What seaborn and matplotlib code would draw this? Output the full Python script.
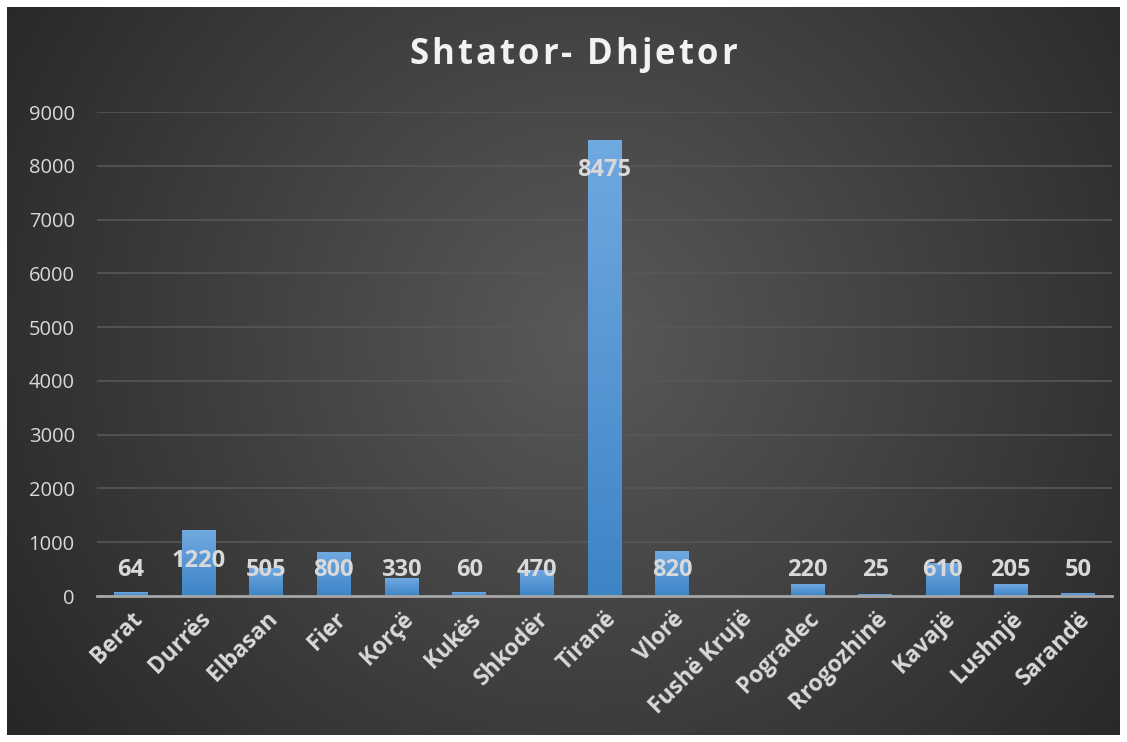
import numpy as np
import matplotlib
matplotlib.use("Agg")
import matplotlib.pyplot as plt
import seaborn as sns

# data
cities = ["Berat", "Durrës", "Elbasan", "Fier", "Korçë", "Kukës", "Shkodër", "Tiranë",
          "Vlorë", "Fushë Krujë", "Pogradec", "Rrogozhinë", "Kavajë", "Lushnjë", "Sarandë"]
values = [64, 1220, 505, 800, 330, 60, 470, 8475, 820, np.nan, 220, 25, 610, 205, 50]
y_ticks = [0, 1000, 2000, 3000, 4000, 5000, 6000, 7000, 8000, 9000]
title = "Shtator- Dhjetor"

sns.set_style("white")
plt.rcParams["font.family"] = ["Open Sans", "DejaVu Sans"]

fig = plt.figure(figsize=(11.27, 7.42), dpi=100, facecolor="white")

# dark radial background inside a thin white frame
bg = fig.add_axes([7 / 1127, 7 / 742, 1 - 14 / 1127, 1 - 14 / 742])
gx, gy = np.meshgrid(np.linspace(0, 1, 400), np.linspace(0, 1, 300))
r = np.sqrt(((gx - 0.52) * 1.5) ** 2 + (gy - 0.45) ** 2)
r = np.clip(r / r.max(), 0, 1)
dark, light = np.array([0.15, 0.15, 0.15]), np.array([0.35, 0.35, 0.35])
img = light[None, None, :] * (1 - r[..., None]) + dark[None, None, :] * r[..., None]
bg.imshow(img, aspect="auto", extent=[0, 1, 0, 1], origin="upper")
bg.set_axis_off()

ax = fig.add_axes([97 / 1127, 146 / 742, 1015 / 1127, 484 / 742])
ax.patch.set_alpha(0)
sns.barplot(x=cities, y=values, color="#5b9bd5", width=0.5, saturation=1, ax=ax,
            zorder=3, linewidth=0, edgecolor="none")

# vertical gradient on each bar
grad = np.linspace(0, 1, 100)[:, None]
top_c, bot_c = np.array([0.44, 0.66, 0.88]), np.array([0.24, 0.52, 0.78])
gimg = top_c[None, None, :] * (1 - grad[..., None]) + bot_c[None, None, :] * grad[..., None]
for p in ax.patches:
    h = p.get_height()
    if not np.isfinite(h) or h <= 0:
        continue
    x0 = p.get_x()
    ax.imshow(gimg, aspect="auto", extent=[x0, x0 + p.get_width(), 0, h],
              origin="upper", zorder=4)
ax.set_ylim(0, 9000)
ax.set_xlim(-0.5, len(cities) - 0.5)

# data labels, Excel-style inside end
for i, v in enumerate(values):
    if not np.isfinite(v):
        continue
    ypos = max(v - 560, 485)
    ax.text(i, ypos, f"{int(v)}", ha="center", va="center", fontsize=17,
            fontweight="bold", color="#d9d9d9", zorder=6)

ax.set_yticks(y_ticks)
ax.yaxis.grid(True, color="#575757", linewidth=1.2, zorder=0)
ax.set_axisbelow(True)
for s in ["top", "right", "left"]:
    ax.spines[s].set_visible(False)
ax.spines["bottom"].set_color("#a6a6a6")
ax.spines["bottom"].set_linewidth(2)
ax.spines["bottom"].set_zorder(7)
ax.tick_params(axis="y", length=0, labelsize=14.5, labelcolor="#d9d9d9", pad=16)
ax.tick_params(axis="x", length=0, labelsize=16.5, labelcolor="#d9d9d9", pad=8)
ax.set_xticks(range(len(cities)))
ax.set_xticklabels(cities, rotation=45, ha="right", rotation_mode="anchor", fontweight="bold")

# title with a little letter spacing, like the original
renderer = fig.canvas.get_renderer()
tprops = dict(fontsize=25, fontweight="bold", color="#f2f2f2", va="center")
spacing = 3
adv = []
for k in range(len(title)):
    t = fig.text(0, 0, title[:k + 1] + "|", **tprops)
    w_bar = fig.text(0, 0, "|", **tprops)
    adv.append(t.get_window_extent(renderer).width - w_bar.get_window_extent(renderer).width)
    t.remove()
    w_bar.remove()
total = adv[-1] + spacing * (len(title) - 1)
x_start = 573 - total / 2
prev = 0
for k, ch in enumerate(title):
    fig.text((x_start + prev + spacing * k) / 1127, 1 - 55 / 742, ch, ha="left", **tprops)
    prev = adv[k]

fig.savefig("out.png", dpi=100, facecolor="white")
